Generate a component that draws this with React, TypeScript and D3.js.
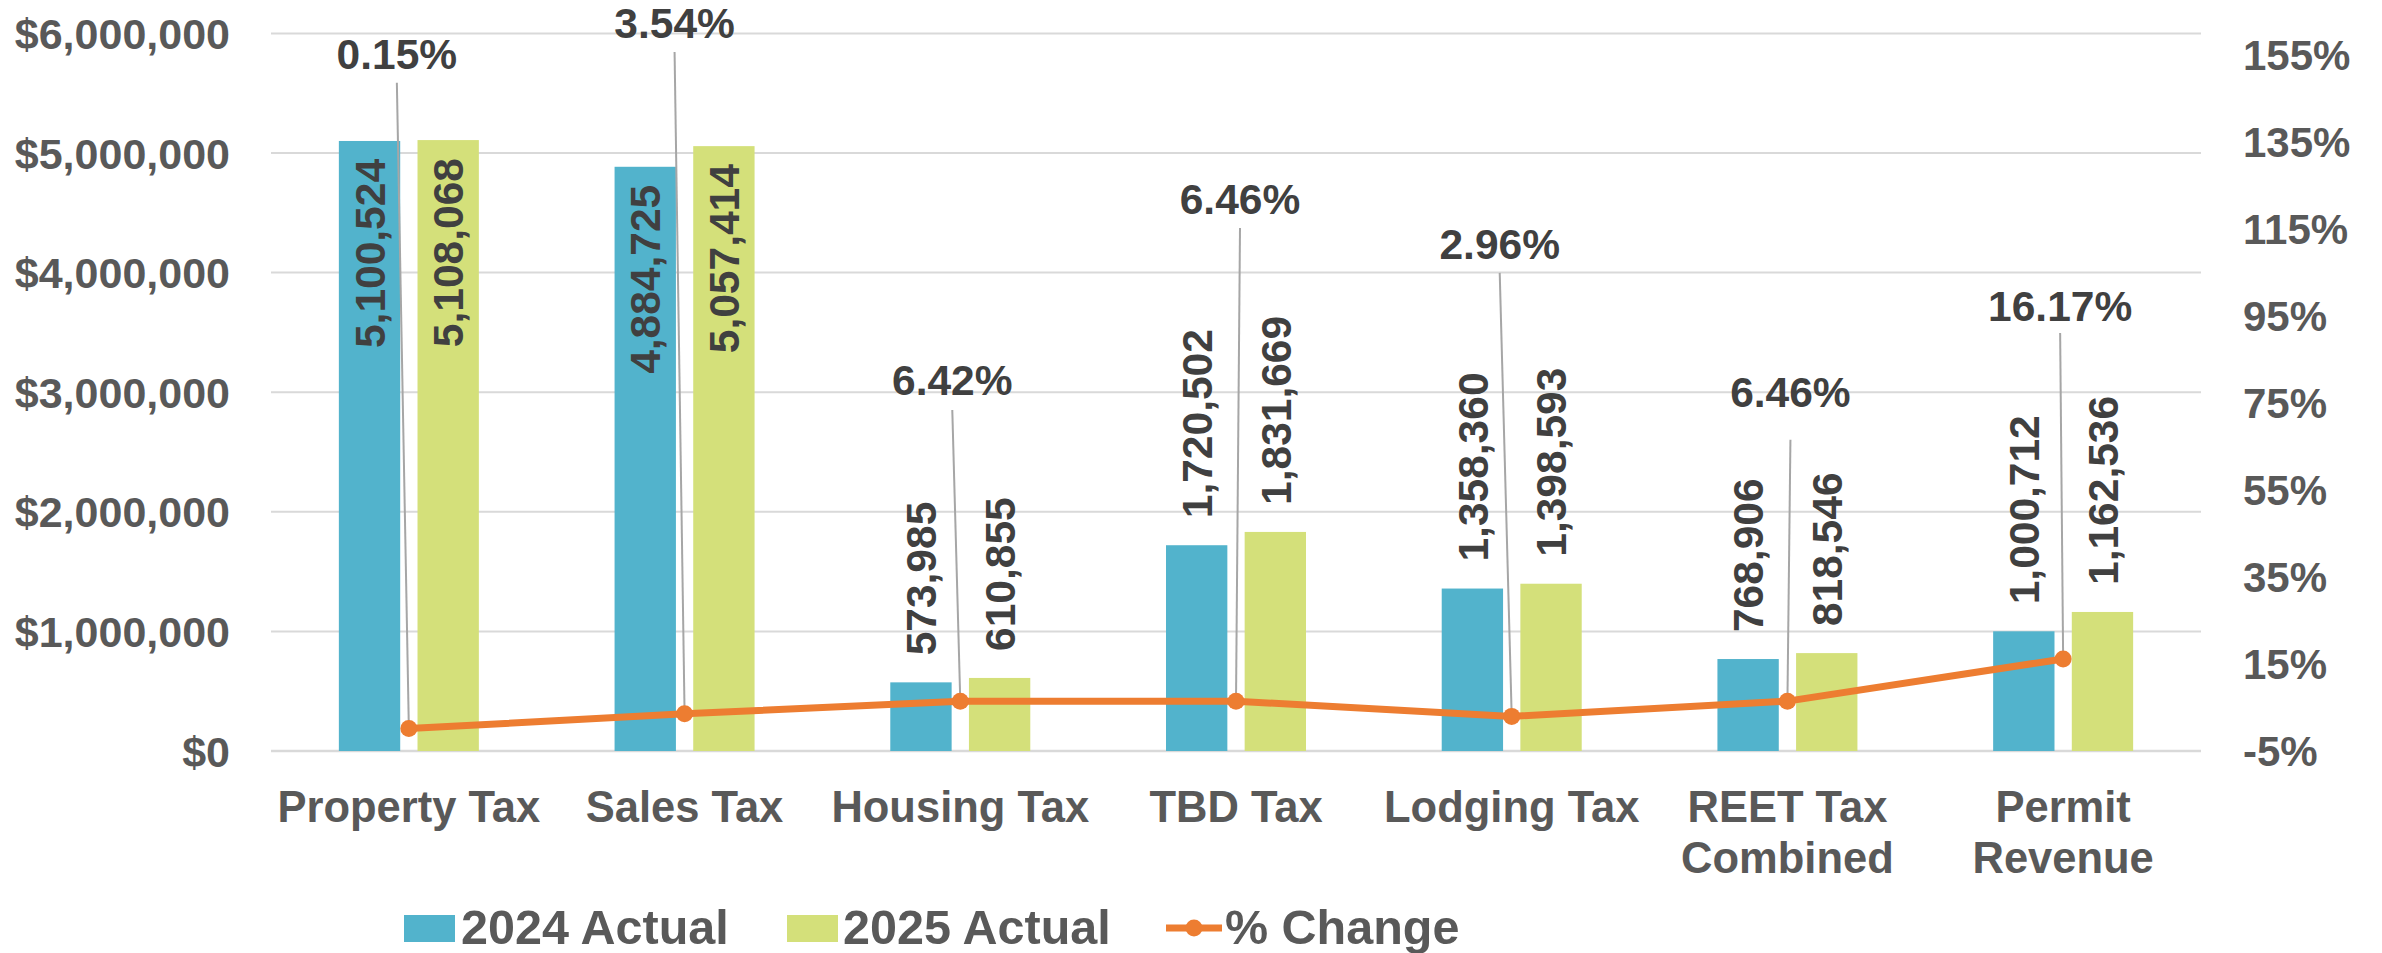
import React from "react";
import * as d3 from "d3";

const categories = ["Property Tax", "Sales Tax", "Housing Tax", "TBD Tax", "Lodging Tax", "REET Tax\nCombined", "Permit\nRevenue"];
const series = ["2024 Actual", "2025 Actual"];
const actual2024 = [5100524, 4884725, 573985, 1720502, 1358360, 768906, 1000712];
const actual2025 = [5108068, 5057414, 610855, 1831669, 1398593, 818546, 1162536];
const pctChange = [0.15, 3.54, 6.42, 6.46, 2.96, 6.46, 16.17];
const leftTicks = [0, 1000000, 2000000, 3000000, 4000000, 5000000, 6000000];
const rightTicks = [-5, 15, 35, 55, 75, 95, 115, 135, 155];

// callout placement of the % labels (in right-axis units) and small x nudges (px)
const calloutLevel = [155.3, 162.4, 80.3, 121.9, 111.6, 77.6, 97.3];
const calloutDx = [-12, -10, -8, 4, -12, 3, -3];
const leaderGap = [29, 29, 30, 29, 29, 48, 27];

const W = 2382;
const H = 953;
const plotLeft = 271;
const plotRight = 2201;
const plotTop = 33.4;
const plotBottom = 751;

const colors = { "2024 Actual": "#52B3CC", "2025 Actual": "#D4E07A" };
const orange = "#ED7D31";
const axisText = "#595959";
const labelText = "#404040";
const grid = "#D9D9D9";
const FONT = "'Liberation Sans', Arial, sans-serif";

export default function App() {
  const x0 = d3.scaleBand<string>().domain(categories).range([plotLeft, plotRight]).padding(0);
  const x1 = d3.scaleBand<string>().domain(series).range([-70, 70]).paddingInner(0.22);
  const y = d3.scaleLinear().domain([0, 6000000]).range([plotBottom, plotTop]);
  const y2 = d3.scaleLinear().domain([-5, 160]).range([plotBottom, plotTop]);
  const fmtMoney = (v: number) => "$" + d3.format(",")(v);
  const fmtNum = d3.format(",");
  const cx = (c: string) => (x0(c) as number) + x0.bandwidth() / 2;
  const bw = x1.bandwidth();
  const fs = 42.5;

  const lineGen = d3
    .line<number>()
    .x((_, i) => cx(categories[i]))
    .y((d) => y2(d));

  const seriesVals = [actual2024, actual2025];

  return (
    <svg
      width={W}
      height={H}
      style={{ position: "absolute", left: 0, top: 0, background: "#fff" }}
      fontFamily={FONT}
      fontWeight="bold"
    >
      {/* gridlines */}
      {leftTicks.map((t) => (
        <line key={"g" + t} x1={plotLeft} x2={plotRight} y1={y(t)} y2={y(t)} stroke={grid} strokeWidth={t === 0 ? 2.5 : 2} />
      ))}
      {/* left axis labels */}
      {leftTicks.map((t) => (
        <text key={"l" + t} x={230} y={y(t) + 15.5} textAnchor="end" fontSize={43} fill={axisText}>
          {fmtMoney(t)}
        </text>
      ))}
      {/* right axis labels */}
      {rightTicks.map((t) => (
        <text key={"r" + t} x={2243} y={y2(t) + 15} textAnchor="start" fontSize={42} fill={axisText}>
          {t + "%"}
        </text>
      ))}
      {/* bars */}
      {categories.map((c, i) =>
        series.map((s, j) => {
          const v = seriesVals[j][i];
          const bx = cx(c) + (x1(s) as number);
          return (
            <rect key={c + s} x={bx} y={y(v)} width={bw} height={plotBottom - y(v)} fill={(colors as any)[s]} />
          );
        })
      )}
      {/* bar value labels */}
      {categories.map((c, i) =>
        series.map((s, j) => {
          const v = seriesVals[j][i];
          const mx = cx(c) + (x1(s) as number) + bw / 2;
          const inside = y(v) - 27 - 200 < plotTop;
          const ay = inside ? y(v) + 18 : y(v) - 27;
          return (
            <text
              key={"v" + c + s}
              transform={`translate(${mx + 0.358 * fs},${ay}) rotate(-90)`}
              textAnchor={inside ? "end" : "start"}
              fontSize={fs}
              fill={labelText}
            >
              {fmtNum(v)}
            </text>
          );
        })
      )}
      {/* leader lines */}
      {categories.map((c, i) => {
        const lx = cx(c) + calloutDx[i];
        const ly = y2(calloutLevel[i]) + leaderGap[i];
        return (
          <line key={"ld" + c} x1={lx} y1={ly} x2={cx(c)} y2={y2(pctChange[i])} stroke="#A6A6A6" strokeWidth={2} />
        );
      })}
      {/* % change line */}
      <path d={lineGen(pctChange) as string} fill="none" stroke={orange} strokeWidth={7} strokeLinejoin="round" />
      {pctChange.map((p, i) => (
        <circle key={"m" + i} cx={cx(categories[i])} cy={y2(p)} r={8.5} fill={orange} />
      ))}
      {/* % labels */}
      {categories.map((c, i) => (
        <text
          key={"p" + c}
          x={cx(c) + calloutDx[i]}
          y={y2(calloutLevel[i]) + 15}
          textAnchor="middle"
          fontSize={fs}
          fill={labelText}
        >
          {pctChange[i].toFixed(2) + "%"}
        </text>
      ))}
      {/* category labels */}
      {categories.map((c) => (
        <text key={"c" + c} x={cx(c)} y={822} textAnchor="middle" fontSize={43.5} fill={axisText}>
          {c.split("\n").map((ln, k) => (
            <tspan key={k} x={cx(c)} dy={k === 0 ? 0 : 51}>
              {ln}
            </tspan>
          ))}
        </text>
      ))}
      {/* legend */}
      <g fontSize={48.5} fill={axisText}>
        <rect x={404} y={915} width={51} height={27} fill={colors["2024 Actual"]} />
        <text x={461} y={944}>2024 Actual</text>
        <rect x={787} y={915} width={51} height={27} fill={colors["2025 Actual"]} />
        <text x={843} y={944}>2025 Actual</text>
        <line x1={1166} x2={1222} y1={928} y2={928} stroke={orange} strokeWidth={7} />
        <circle cx={1194} cy={928} r={8.5} fill={orange} />
        <text x={1225} y={944}>% Change</text>
      </g>
    </svg>
  );
}
